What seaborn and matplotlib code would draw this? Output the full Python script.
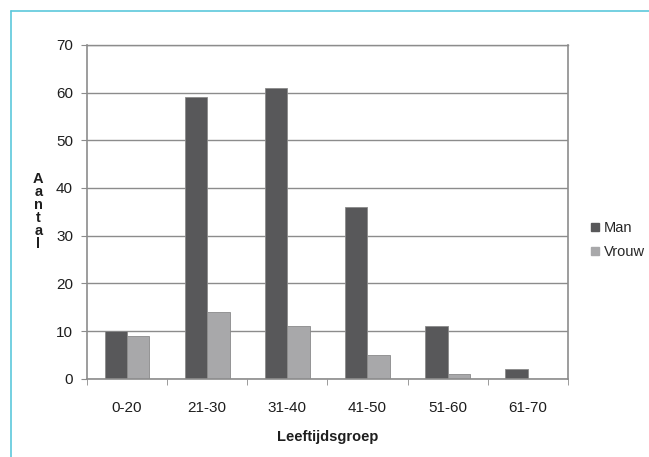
import matplotlib
matplotlib.use("Agg")
import matplotlib.pyplot as plt
import seaborn as sns
import pandas as pd
from matplotlib.lines import Line2D
from matplotlib.ticker import FixedLocator

groups = ["0-20", "21-30", "31-40", "41-50", "51-60", "61-70"]
man = [10, 59, 61, 36, 11, 2]
vrouw = [9, 14, 11, 5, 1, 0]

df = pd.DataFrame({
    "Leeftijdsgroep": groups * 2,
    "Aantal": man + vrouw,
    "Geslacht": ["Man"] * len(groups) + ["Vrouw"] * len(groups),
})

sns.set_style("white")
plt.rcParams["font.family"] = ["Liberation Sans", "DejaVu Sans"]

fig = plt.figure(figsize=(6.49, 4.57), dpi=100)
ax = fig.add_axes([0.134, 0.171, 0.741, 0.731])

palette = {"Man": "#58585a", "Vrouw": "#a8a8aa"}
sns.barplot(data=df, x="Leeftijdsgroep", y="Aantal", hue="Geslacht",
            palette=palette, width=0.56, ax=ax, edgecolor="#8a8a8a",
            linewidth=0.6, saturation=1, legend=False)

ax.set_ylim(0, 70)
ax.set_xlim(-0.5, 5.5)
ax.set_yticks(range(0, 71, 10))
ax.yaxis.grid(True, color="#8c8c8c", linewidth=1.0)
ax.set_axisbelow(True)
for s in ["left", "bottom", "right"]:
    ax.spines[s].set_color("#8c8c8c")
    ax.spines[s].set_linewidth(1.2)
ax.spines["top"].set_color("#8c8c8c")
ax.spines["top"].set_linewidth(1.0)

ax.tick_params(axis="y", which="major", length=4, direction="out", color="#8c8c8c",
               labelsize=11, labelcolor="#1e1e1e", pad=6, left=True)
ax.tick_params(axis="x", which="major", length=0, labelsize=11, labelcolor="#1e1e1e", pad=16)
ax.xaxis.set_minor_locator(FixedLocator([i + 0.5 for i in range(-1, len(groups))]))
ax.tick_params(axis="x", which="minor", length=4, direction="out", color="#8c8c8c", bottom=True)

ax.set_xlabel("Leeftijdsgroep", fontsize=10.5, fontweight="bold", color="#1e1e1e", labelpad=11)
ax.set_ylabel("")
fig.text(0.059, 0.537, "\n".join("Aantal"), fontsize=10.5, fontweight="bold",
         color="#1e1e1e", ha="center", va="center", linespacing=0.92)

handles = [Line2D([], [], marker="s", linestyle="", markersize=6,
                  markerfacecolor=palette[k], markeredgecolor=palette[k]) for k in ["Man", "Vrouw"]]
fig.legend(handles, ["Man", "Vrouw"], loc="center left", bbox_to_anchor=(0.89, 0.475),
           frameon=False, fontsize=10.5, handlelength=0.6, handletextpad=0.3, labelspacing=0.7)

# outer frame lines (top and left)
fig.add_artist(Line2D([0.017, 1.0], [0.976, 0.976], color="#5cc8dc", linewidth=1.2))
fig.add_artist(Line2D([0.017, 0.017], [0.0, 0.976], color="#5cc8dc", linewidth=1.2))

fig.savefig("out.png", dpi=100)
